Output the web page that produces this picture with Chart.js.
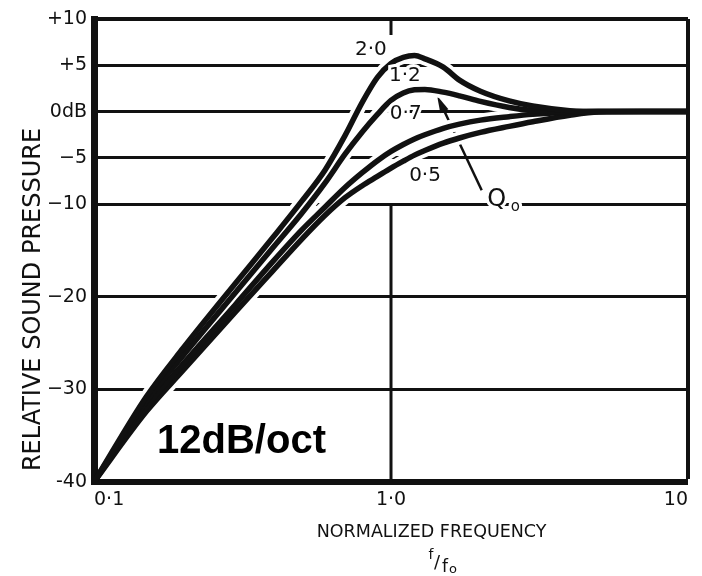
<!DOCTYPE html>
<html lang="en">
<head>
<meta charset="UTF-8">
<title>Relative sound pressure vs normalized frequency</title>
<script src="https://cdn.jsdelivr.net/npm/chart.js"></script>
<style>
  body { margin: 0; background: #fff; }
  #wrap { width: 702px; height: 576px; }
</style>
</head>
<body>
<div id="wrap"><canvas id="chart" width="702" height="576"></canvas></div>
<script>
// normalized frequency f/fo
const freqs = [0.1, 0.15, 0.2, 0.3, 0.4, 0.5, 0.6, 0.7, 0.8, 0.9, 1.0, 1.1, 1.2, 1.3, 1.5, 1.7, 2.0, 2.5, 3, 4, 5, 7, 10];

// relative sound pressure (dB) for each Qo
const q20 = [-40, -30.8, -25.5, -18.5, -13.6, -9.7, -6.3, -2.6, 1.0, 3.7, 5.2, 5.85, 6.05, 5.7, 4.8, 3.4, 2.2, 1.15, 0.6, 0.1, 0, 0, 0];
const q12 = [-40, -31.3, -26.3, -19.5, -14.7, -11.0, -7.7, -4.6, -2.2, -0.3, 1.2, 2.0, 2.35, 2.4, 2.1, 1.7, 1.1, 0.45, 0.12, 0, 0, 0, 0];
const q07 = [-40, -31.9, -27.2, -20.8, -16.2, -12.8, -10.3, -8.2, -6.6, -5.3, -4.3, -3.55, -2.95, -2.5, -1.8, -1.35, -0.92, -0.55, -0.3, -0.08, 0, 0, 0];
const q05 = [-40, -32.4, -27.9, -21.6, -17.2, -13.8, -11.2, -9.3, -8.0, -7.0, -6.1, -5.35, -4.7, -4.2, -3.4, -2.85, -2.25, -1.6, -1.1, -0.4, -0.05, 0, 0];

const series = [q20, q12, q07, q05];
const qLabels = ['2·0', '1·2', '0·7', '0·5'];

const yTicks = [-40, -30, -20, -10, -5, 0, 5, 10];
const yTickLabels = ['-40', '−30', '−20', '−10', '−5', '0dB', '+5', '+10'];
const xTicks = [0.1, 1, 10];
const xTickLabels = ['0·1', '1·0', '10'];

Chart.defaults.font.family = "'DejaVu Sans', sans-serif";
Chart.defaults.color = '#111';

const toPoints = arr => freqs.map((f, i) => ({ x: f, y: arr[i] }));

// black curves first (drawn on top), then white halos that break the grid lines
const datasets = [];
series.forEach((arr, i) => {
    datasets.push({
        label: 'Qo ' + qLabels[i],
        data: toPoints(arr),
        borderColor: '#111',
        borderWidth: 5.5,
        pointRadius: 0,
        cubicInterpolationMode: 'monotone'
    });
});
series.forEach((arr, i) => {
    datasets.push({
        label: 'halo ' + qLabels[i],
        data: toPoints(arr),
        borderColor: '#fff',
        borderWidth: 13,
        pointRadius: 0,
        cubicInterpolationMode: 'monotone',
        clip: { left: -6, bottom: -6, top: 0, right: -6 }
    });
});

// label positions in chart units (f/fo, dB)
const curveNotes = [
    { f: 0.856, db: 6.65 },
    { f: 1.114, db: 3.84 },
    { f: 1.121, db: -0.26 },
    { f: 1.302, db: -6.95 }
];

function haloText(ctx, text, x, y) {
    ctx.lineWidth = 6;
    ctx.strokeStyle = '#fff';
    ctx.strokeText(text, x, y);
    ctx.fillText(text, x, y);
}

const decorations = {
    id: 'decorations',
    beforeDraw(chart) {
        const ctx = chart.ctx;
        ctx.save();
        ctx.fillStyle = '#fff';
        ctx.fillRect(0, 0, chart.width, chart.height);
        ctx.restore();
    },
    beforeDatasetsDraw(chart) {
        const { ctx, chartArea: a, scales: { x, y } } = chart;
        ctx.save();
        ctx.strokeStyle = '#111';
        ctx.fillStyle = '#111';
        // vertical line at f/fo = 1 (only below -10 dB) and short tick at the top
        ctx.lineWidth = 3;
        ctx.beginPath();
        ctx.moveTo(x.getPixelForValue(1), y.getPixelForValue(-10));
        ctx.lineTo(x.getPixelForValue(1), a.bottom);
        ctx.moveTo(x.getPixelForValue(1), a.top);
        ctx.lineTo(x.getPixelForValue(1), a.top + 16);
        ctx.stroke();

        // Qo arrow
        const x0 = x.getPixelForValue(2.02), y0 = y.getPixelForValue(-8.5);
        const x1 = x.getPixelForValue(1.43), y1 = y.getPixelForValue(1.7);
        const ang = Math.atan2(y1 - y0, x1 - x0);
        ctx.lineWidth = 2.5;
        ctx.beginPath();
        ctx.moveTo(x0, y0);
        ctx.lineTo(x1 - 12 * Math.cos(ang), y1 - 12 * Math.sin(ang));
        ctx.stroke();
        ctx.beginPath();
        ctx.moveTo(x1, y1);
        ctx.lineTo(x1 - 17 * Math.cos(ang) + 4.5 * Math.sin(ang), y1 - 17 * Math.sin(ang) - 4.5 * Math.cos(ang));
        ctx.lineTo(x1 - 17 * Math.cos(ang) - 4.5 * Math.sin(ang), y1 - 17 * Math.sin(ang) + 4.5 * Math.cos(ang));
        ctx.closePath();
        ctx.fill();
        ctx.restore();
    },
    afterDatasetsDraw(chart) {
        const { ctx, chartArea: a, scales: { x, y } } = chart;
        ctx.save();
        ctx.fillStyle = '#111';
        ctx.textAlign = 'center';
        ctx.textBaseline = 'middle';

        ctx.font = "20px 'DejaVu Sans'";
        curveNotes.forEach((n, i) => {
            haloText(ctx, qLabels[i], x.getPixelForValue(n.f), y.getPixelForValue(n.db));
        });

        // Qo
        ctx.font = "24px 'DejaVu Sans'";
        haloText(ctx, 'Q', x.getPixelForValue(2.27), y.getPixelForValue(-9.55));
        ctx.font = "15px 'DejaVu Sans'";
        haloText(ctx, 'o', x.getPixelForValue(2.62), y.getPixelForValue(-10.3));

        // slope note
        ctx.fillStyle = '#000';
        ctx.textAlign = 'left';
        ctx.textBaseline = 'alphabetic';
        ctx.font = "bold 40px 'Liberation Sans', Arial, sans-serif";
        ctx.fillText('12dB/oct', x.getPixelForValue(0.163), y.getPixelForValue(-36.87));

        // axis titles
        ctx.fillStyle = '#111';
        ctx.textAlign = 'center';
        ctx.font = "17.5px 'DejaVu Sans'";
        ctx.fillText('NORMALIZED FREQUENCY', x.getPixelForValue(1.37), a.bottom + 55);

        ctx.font = "14px 'DejaVu Sans'";
        const fx = x.getPixelForValue(1.45);
        ctx.fillText('f', fx - 8, a.bottom + 77);
        ctx.font = "18px 'DejaVu Sans'";
        ctx.fillText('/', fx - 2, a.bottom + 86);
        ctx.font = "17px 'DejaVu Sans'";
        ctx.fillText('f', fx + 6, a.bottom + 90);
        ctx.font = "13px 'DejaVu Sans'";
        ctx.fillText('o', fx + 14, a.bottom + 91);

        ctx.translate(40, (a.top + a.bottom) / 2 + 49);
        ctx.rotate(-Math.PI / 2);
        ctx.font = "24px 'DejaVu Sans'";
        ctx.fillText('RELATIVE SOUND PRESSURE', 0, 0);
        ctx.restore();
    }
};

new Chart(document.getElementById('chart'), {
    type: 'line',
    data: { datasets: datasets },
    options: {
        responsive: false,
        animation: false,
        layout: { padding: { top: 19, right: 14, left: 0, bottom: 0 } },
        plugins: {
            legend: { display: false },
            tooltip: { enabled: false }
        },
        scales: {
            x: {
                type: 'logarithmic',
                min: 0.1,
                max: 10,
                afterBuildTicks: s => { s.ticks = xTicks.map(v => ({ value: v })); },
                afterFit: s => { s.height = 94; },
                ticks: {
                    align: 'inner',
                    padding: 7,
                    autoSkip: false,
                    maxRotation: 0,
                    font: { size: 19 },
                    callback: (v, i) => xTickLabels[i]
                },
                grid: {
                    drawTicks: false,
                    lineWidth: c => (c.tick && c.tick.value === 10 ? 4 : 0),
                    color: c => (c.tick && c.tick.value === 10 ? '#111' : 'rgba(0,0,0,0)')
                },
                border: { width: 6, color: '#111' }
            },
            y: {
                type: 'linear',
                min: -40,
                max: 10,
                afterBuildTicks: s => { s.ticks = yTicks.map(v => ({ value: v })); },
                afterFit: s => { s.width = 94; },
                ticks: {
                    padding: 7,
                    font: { size: 19 },
                    callback: v => yTickLabels[yTicks.indexOf(v)]
                },
                grid: {
                    drawTicks: false,
                    lineWidth: c => (c.tick && c.tick.value === -40 ? 0 : (c.tick && c.tick.value === 10 ? 4 : 3)),
                    color: c => (c.tick && c.tick.value === -40 ? 'rgba(0,0,0,0)' : '#111')
                },
                border: { width: 7, color: '#111' }
            }
        }
    },
    plugins: [decorations]
});
</script>
</body>
</html>
